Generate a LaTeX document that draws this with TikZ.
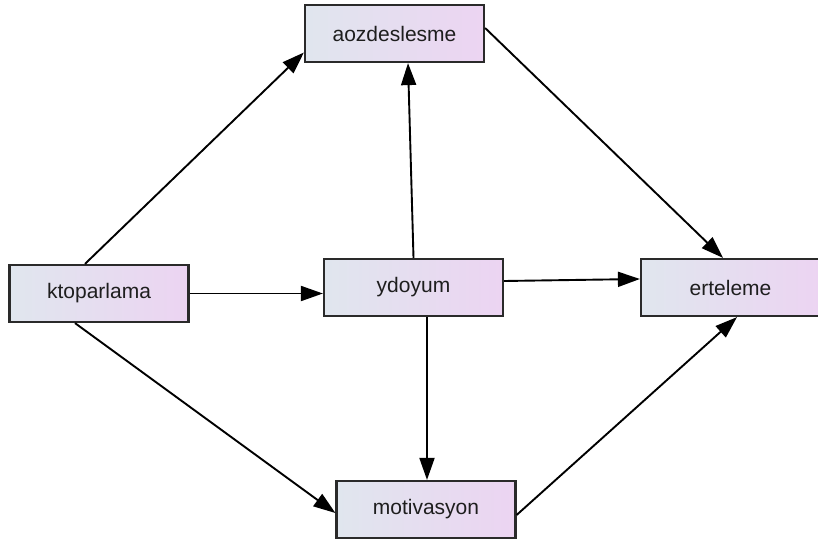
\documentclass[tikz,border=0pt]{standalone}
\usepackage{fontspec}
\setmainfont{Liberation Sans}
\usetikzlibrary{arrows.meta}
\definecolor{boxL}{HTML}{E0E6EE}
\definecolor{boxR}{HTML}{ECD4F2}
\definecolor{boxline}{HTML}{2A2A2A}
\definecolor{txt}{HTML}{1E1E1E}
\tikzset{
  var/.style={rectangle, draw=boxline, line width=2.2pt, left color=boxL, right color=boxR,
    minimum width=179pt, minimum height=57pt, inner sep=0pt, text=txt,
    font=\fontsize{21}{25}\selectfont},
  conn/.style={line width=1.9pt, draw=black, -{Triangle[length=22pt,width=15pt]}, shorten >=0pt}
}
\begin{document}
\begin{tikzpicture}[x=1pt,y=-1pt]
\useasboundingbox (0,0) rectangle (818,543);
\node[var] (aoz) at (394.5,33.5) {aozdeslesme};
\node[var] (kto) at (99,293.5) {ktoparlama};
\node[var] (ert) at (730.5,287.5) {erteleme};
\node[var] (mot) at (426,509.5) {motivasyon};
\node[var] (ydo) at (413.5,287.5) {ydoyum};
\draw[conn] ([xshift=-14pt]kto.north) -- ([yshift=-19pt]aoz.west);
\draw[conn] ([yshift=0pt]kto.east) -- ([yshift=-6pt]ydo.west);
\draw[conn] ([xshift=-24pt]kto.south) -- ([yshift=-3.5pt]mot.west);
\draw[conn] ([xshift=0pt]ydo.north) -- ([xshift=13.5pt]aoz.south);
\draw[conn] ([yshift=6.5pt]ydo.east) -- ([yshift=8.5pt]ert.west);
\draw[conn] ([xshift=13.5pt]ydo.south) -- ([xshift=1pt]mot.north);
\draw[conn] ([yshift=5.5pt]aoz.east) -- ([xshift=-7.5pt]ert.north);
\draw[conn] ([yshift=-5.5pt]mot.east) -- ([xshift=6.5pt]ert.south);
\end{tikzpicture}
\end{document}
